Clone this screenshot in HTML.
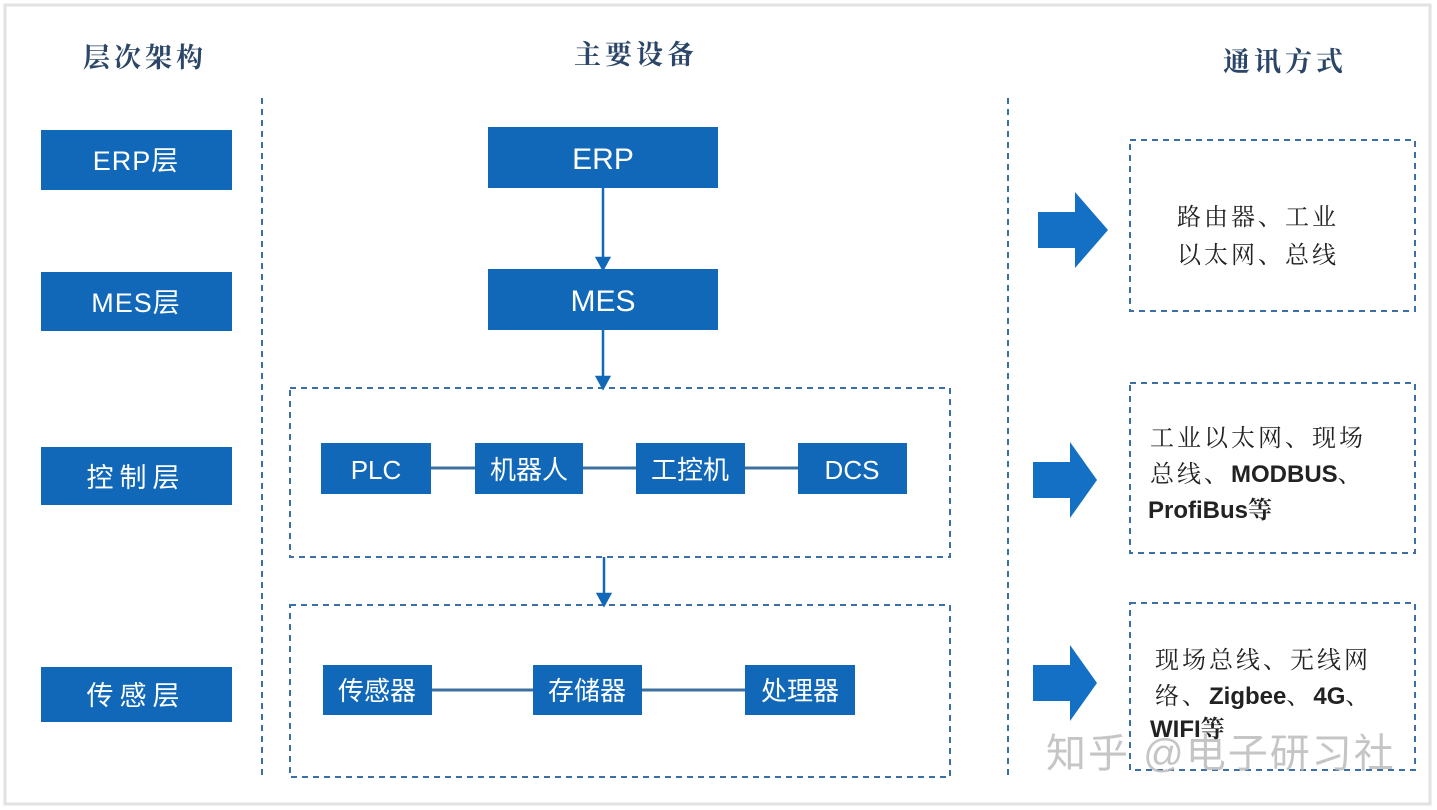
<!DOCTYPE html>
<html><head><meta charset="utf-8"><style>
html,body{margin:0;padding:0;background:#fff;width:1437px;height:810px;overflow:hidden}
svg{display:block}
.h{font-family:"Liberation Serif","Noto Serif CJK SC",serif;font-weight:bold;font-size:27px;fill:#2b4668;letter-spacing:4px}
.w{font-family:"Liberation Sans","Noto Sans CJK SC",sans-serif;fill:#fff}
.b{font-family:"Liberation Serif","Noto Serif CJK SC",serif;fill:#222;font-size:24px;letter-spacing:3px}
.bl{font-family:"Liberation Sans","Noto Sans CJK SC",sans-serif;fill:#222;font-size:24px;font-weight:bold;letter-spacing:0}
</style></head><body>
<svg width="1437" height="810" viewBox="0 0 1437 810">
<rect x="5" y="5" width="1425" height="799" fill="#fff" stroke="#e2e2e2" stroke-width="3"/>
<text class="h" x="145" y="67" text-anchor="middle">层次架构</text>
<text class="h" x="636" y="64" text-anchor="middle">主要设备</text>
<text class="h" x="1285" y="71" text-anchor="middle">通讯方式</text>
<g stroke="#3a6fa8" stroke-width="2" stroke-dasharray="6,5" fill="none">
<line x1="262" y1="98" x2="262" y2="775"/>
<line x1="1008" y1="98" x2="1008" y2="775"/>
<rect x="290" y="388" width="660" height="169"/>
<rect x="290" y="605" width="660" height="172"/>
<rect x="1130" y="140" width="285" height="171"/>
<rect x="1130" y="383" width="285" height="170"/>
<rect x="1130" y="603" width="285" height="167"/>
</g>
<g fill="#1268b8">
<rect x="41" y="130" width="191" height="60"/>
<rect x="41" y="272" width="191" height="59"/>
<rect x="41" y="447" width="191" height="58"/>
<rect x="41" y="667" width="191" height="55"/>
<rect x="488" y="127" width="230" height="61"/>
<rect x="488" y="269" width="230" height="61"/>
<rect x="321" y="443" width="110" height="51"/>
<rect x="475" y="443" width="108" height="51"/>
<rect x="636" y="443" width="109" height="51"/>
<rect x="798" y="443" width="109" height="51"/>
<rect x="323" y="665" width="109" height="50"/>
<rect x="533" y="665" width="109" height="50"/>
<rect x="745" y="665" width="110" height="50"/>
</g>
<g stroke="#3d6f9f" stroke-width="3">
<line x1="431" y1="468" x2="475" y2="468"/>
<line x1="583" y1="468" x2="636" y2="468"/>
<line x1="745" y1="468" x2="798" y2="468"/>
<line x1="432" y1="690" x2="533" y2="690"/>
<line x1="642" y1="690" x2="745" y2="690"/>
</g>
<g stroke="#1268b8" stroke-width="2.5" fill="#1268b8">
<line x1="603" y1="188" x2="603" y2="262"/><path d="M597 258 L609 258 L603 269 Z"/>
<line x1="603" y1="330" x2="603" y2="380"/><path d="M597 377 L609 377 L603 388 Z"/>
<line x1="604" y1="557" x2="604" y2="598"/><path d="M598 594 L610 594 L604 605 Z"/>
</g>
<g fill="#1470c4">
<path d="M1038 212 H1075 V192 L1108 230 L1075 268 V248 H1038 Z"/>
<path d="M1033 462 H1070 V442 L1097 480 L1070 518 V498 H1033 Z"/>
<path d="M1033 665 H1070 V645 L1097 683 L1070 721 V701 H1033 Z"/>
</g>
<g class="w" font-size="27" text-anchor="middle">
<text x="136" y="170" letter-spacing="1">ERP层</text>
<text x="136" y="312" letter-spacing="1">MES层</text>
<text x="136" y="487" letter-spacing="6">控制层</text>
<text x="136" y="705" letter-spacing="6">传感层</text>
<text x="603" y="169" font-size="30">ERP</text>
<text x="603" y="311" font-size="30">MES</text>
<text x="376" y="479" font-size="26">PLC</text>
<text x="529" y="479" font-size="26">机器人</text>
<text x="690" y="479" font-size="26">工控机</text>
<text x="852" y="479" font-size="26">DCS</text>
<text x="377" y="700" font-size="26">传感器</text>
<text x="587" y="700" font-size="26">存储器</text>
<text x="800" y="700" font-size="26">处理器</text>
</g>
<text class="b" x="1177" y="225">路由器、工业</text>
<text class="b" x="1177" y="263">以太网、总线</text>
<text class="b" x="1150" y="446">工业以太网、现场</text>
<text class="b" x="1150" y="482">总线、<tspan class="bl">MODBUS</tspan>、</text>
<text class="bl" x="1148" y="518">ProfiBus<tspan class="b" letter-spacing="0">等</tspan></text>
<text class="b" x="1155" y="668">现场总线、无线网</text>
<text class="b" x="1155" y="704">络、<tspan class="bl">Zigbee</tspan>、<tspan class="bl">4G</tspan>、</text>
<text class="bl" x="1150" y="737">WIFI<tspan class="b" letter-spacing="0">等</tspan></text>
<text x="1046" y="767" font-family="Liberation Sans,'Noto Sans CJK SC',sans-serif" font-size="40" letter-spacing="2" fill="#bbb" fill-opacity="0.85">知乎 @电子研习社</text>
</svg>
</body></html>
